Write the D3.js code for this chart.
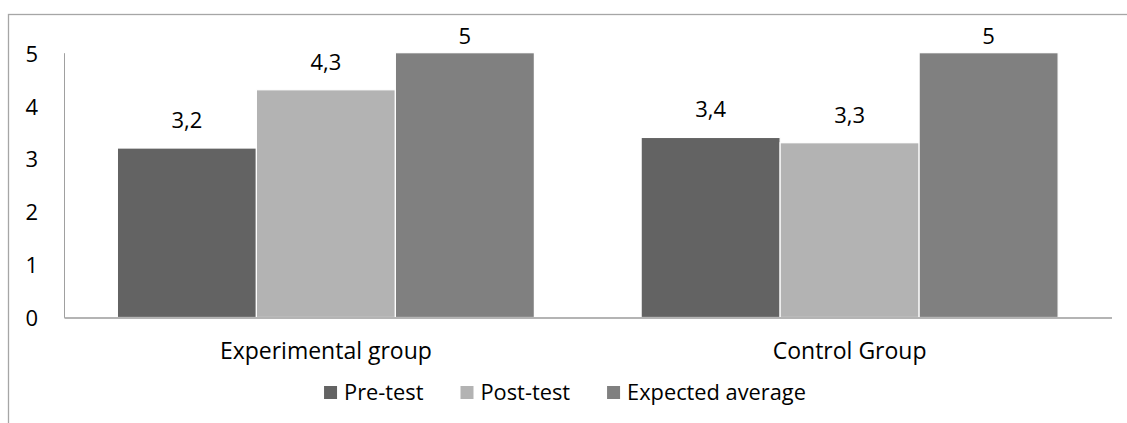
<!DOCTYPE html>
<html>
<head>
<meta charset="utf-8">
<script src="https://cdn.jsdelivr.net/npm/d3@7"></script>
<style>
  html, body { margin: 0; padding: 0; background: #fff; }
  svg { display: block; }
  text { font-family: "Open Sans", "Noto Sans", sans-serif; fill: #000; }
</style>
</head>
<body>
<svg id="chart" width="1127" height="423"></svg>
<script>
const categories = ["Experimental group", "Control Group"];
const seriesNames = ["Pre-test", "Post-test", "Expected average"];
const preTest = [3.2, 3.4];
const postTest = [4.3, 3.3];
const expectedAverage = [5, 5];
const valueLabels = [["3,2", "3,4"], ["4,3", "3,3"], ["5", "5"]];
const yTicks = [0, 1, 2, 3, 4, 5];
const colors = ["#636363", "#b3b3b3", "#808080"];

const seriesValues = [preTest, postTest, expectedAverage];
const rows = categories.map((c, ci) => ({
  category: c,
  bars: seriesNames.map((s, si) => ({ series: s, si, ci, value: seriesValues[si][ci], label: valueLabels[si][ci] }))
}));

const W = 1127, H = 423;
const svg = d3.select("#chart");
const FS = 22, FS_CAT = 23, FS_LEG = 21.8;

// outer chart frame (cropped on right and bottom)
svg.append("rect")
  .attr("x", 8.5).attr("y", 14.5)
  .attr("width", W + 20).attr("height", H + 20)
  .attr("fill", "none").attr("stroke", "#a6a6a6").attr("stroke-width", 1.3);

const plot = { left: 64, right: 1111.5, top: 52.7, bottom: 317.5 };

const x0 = d3.scaleBand().domain(categories).range([plot.left, plot.right]).paddingInner(0).paddingOuter(0);
const x1 = d3.scaleBand().domain(seriesNames).range([0, x0.bandwidth()]).paddingInner(0).paddingOuter(0.384);
const y = d3.scaleLinear().domain([0, 5]).range([plot.bottom, plot.top]);

// bars
const groups = svg.append("g").selectAll("g").data(rows).join("g")
  .attr("transform", d => `translate(${x0(d.category)},0)`);

groups.selectAll("rect").data(d => d.bars).join("rect")
  .attr("x", d => x1(d.series))
  .attr("y", d => y(d.value))
  .attr("width", x1.bandwidth())
  .attr("height", d => y(0) - y(d.value))
  .attr("fill", d => colors[d.si])
  .attr("stroke", "#ffffff").attr("stroke-width", 1.2);

// data labels
groups.selectAll("text.lbl").data(d => d.bars).join("text")
  .attr("class", "lbl")
  .attr("x", d => x1(d.series) + x1.bandwidth() / 2)
  .attr("y", d => Math.max(y(d.value) - 20, 44))
  .attr("text-anchor", "middle")
  .attr("font-size", FS)
  .text(d => d.label);

// y axis
const yAxis = svg.append("g")
  .attr("transform", `translate(${plot.left},0)`)
  .call(d3.axisLeft(y).tickValues(yTicks).tickFormat(d3.format("d")).tickSize(0).tickPadding(26));
yAxis.select(".domain").attr("stroke", "#a0a0a0").attr("stroke-width", 1);
yAxis.selectAll("text").attr("font-size", FS).attr("font-family", "Open Sans").attr("fill", "#000").attr("dy", "0.38em");

// x axis
const xAxis = svg.append("g")
  .attr("transform", `translate(0,${plot.bottom})`)
  .call(d3.axisBottom(x0).tickSize(0).tickPadding(25.2));
xAxis.select(".domain").attr("stroke", "#b4b4b4").attr("stroke-width", 2);
xAxis.selectAll("text").attr("font-size", FS_CAT).attr("font-family", "Open Sans").attr("fill", "#000");

// legend
const legend = svg.append("g");
const sq = 13, gapSqText = 7, gapItems = 37;
const items = legend.selectAll("g").data(seriesNames).join("g");
items.append("rect").attr("width", sq).attr("height", sq).attr("y", -14)
  .attr("fill", (d, i) => colors[i]);
items.append("text").attr("x", sq + gapSqText).attr("y", 0)
  .attr("font-size", FS_LEG).text(d => d);
let cx = 0;
items.each(function () {
  const g = d3.select(this);
  g.attr("transform", `translate(${cx},0)`);
  cx += sq + gapSqText + g.select("text").node().getComputedTextLength() + gapItems;
});
const legendWidth = cx - gapItems;
legend.attr("transform", `translate(${565 - legendWidth / 2},400)`);
</script>
</body>
</html>
